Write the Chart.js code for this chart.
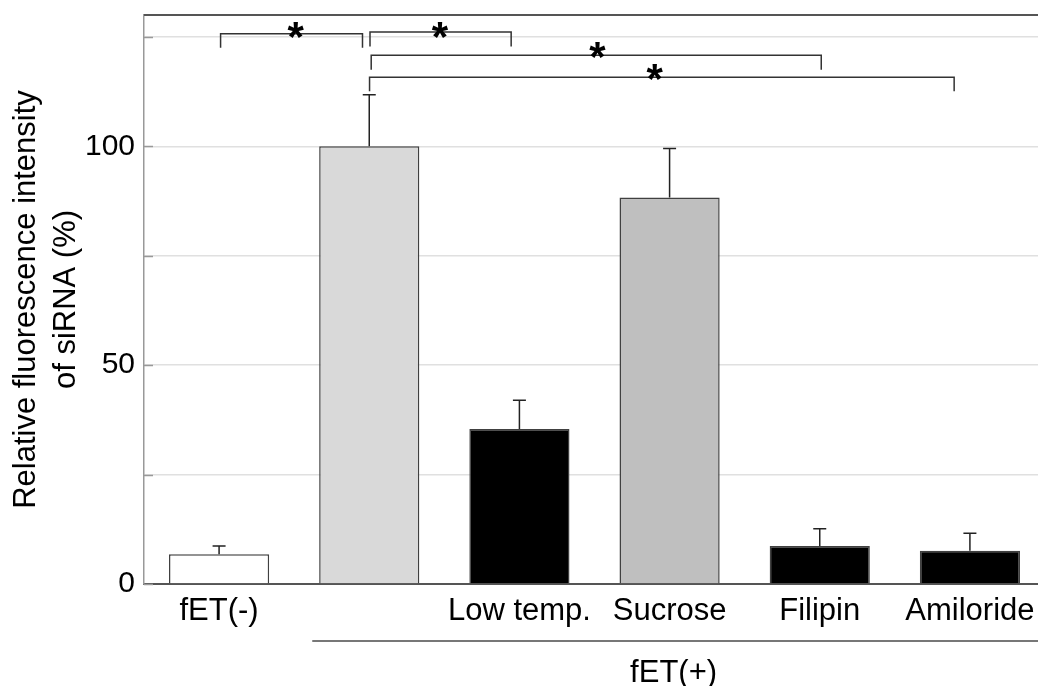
<!DOCTYPE html>
<html lang="en">
  <head>
    <meta charset="UTF-8" />
    <title>Relative fluorescence intensity of siRNA</title>
    <script src="https://cdn.jsdelivr.net/npm/chart.js"></script>
    <style>
      html, body { margin: 0; padding: 0; background: #fff; overflow: hidden; }
      .wrap { position: relative; width: 1050px; height: 686px; }
    </style>
  </head>
  <body>
    <div class="wrap">
      <canvas id="barChart"></canvas>
    </div>

    <script>
      // data
      const categories = ['fET(-)', '', 'Low temp.', 'Sucrose', 'Filipin', 'Amiloride'];
      const values = [6.8, 100, 35.4, 88.3, 8.7, 7.6];
      const errors = [1.9, 11.8, 6.6, 11.2, 3.9, 4.0];
      const barColors = ['#ffffff', '#d9d9d9', '#000000', '#bfbfbf', '#000000', '#000000'];
      const yLabeled = [0, 50, 100];

      // significance brackets (category index / y value)
      const sigFrom = [0.01, 1.005, 1.013, 1.002];
      const sigTo = [0.955, 1.945, 4.01, 4.895];
      const sigY = [125.7, 126.1, 120.8, 115.8];
      const sigLeg = [122.5, 122.8, 117.5, 112.6];
      const starX = [0.51, 1.47, 2.52, 2.9];
      const starY = [127.2, 127.2, 122.8, 117.6];

      const groupLabel = 'fET(+)';
      const groupFrom = 1;
      const groupTo = 5;

      const FONT = "'Liberation Sans', Arial, sans-serif";

      const extras = {
        id: 'extras',
        afterDatasetsDraw(chart) {
          const ctx = chart.ctx;
          const x = chart.scales.x;
          const y = chart.scales.y;
          const area = chart.chartArea;
          ctx.save();

          // short inner ticks on the y axis
          ctx.strokeStyle = '#999';
          ctx.lineWidth = 1.5;
          y.ticks.forEach(t => {
            const py = Math.round(y.getPixelForValue(t.value)) + 0.5;
            ctx.beginPath();
            ctx.moveTo(area.left, py);
            ctx.lineTo(area.left + 9, py);
            ctx.stroke();
          });

          // top frame line
          ctx.strokeStyle = '#555';
          ctx.lineWidth = 2;
          ctx.beginPath();
          ctx.moveTo(area.left, area.top);
          ctx.lineTo(chart.width, area.top);
          ctx.stroke();

          // error bars (upper only)
          ctx.strokeStyle = '#222';
          ctx.lineWidth = 1.5;
          values.forEach((v, i) => {
            const px = x.getPixelForValue(i);
            const top = y.getPixelForValue(v + errors[i]);
            const base = y.getPixelForValue(v);
            ctx.beginPath();
            ctx.moveTo(px, base);
            ctx.lineTo(px, top);
            ctx.moveTo(px - 6.5, top);
            ctx.lineTo(px + 6.5, top);
            ctx.stroke();
          });

          // significance brackets
          ctx.strokeStyle = '#333';
          ctx.lineWidth = 1.5;
          sigFrom.forEach((f, i) => {
            const x1 = x.getPixelForValue(f);
            const x2 = x.getPixelForValue(sigTo[i]);
            const yy = y.getPixelForValue(sigY[i]);
            const yl = y.getPixelForValue(sigLeg[i]);
            ctx.beginPath();
            ctx.moveTo(x1, yl);
            ctx.lineTo(x1, yy);
            ctx.lineTo(x2, yy);
            ctx.lineTo(x2, yl);
            ctx.stroke();
          });
          ctx.fillStyle = '#000';
          ctx.font = 'bold 42px ' + FONT;
          ctx.textAlign = 'center';
          ctx.textBaseline = 'alphabetic';
          starX.forEach((sx, i) => {
            ctx.fillText('*', x.getPixelForValue(sx), y.getPixelForValue(starY[i]) + 24);
          });

          // group line and label under the axis
          const gx1 = x.getPixelForValue(groupFrom) - 57;
          const gx2 = x.getPixelForValue(groupTo) + 75;
          ctx.strokeStyle = '#777';
          ctx.lineWidth = 2;
          ctx.beginPath();
          ctx.moveTo(gx1, 641);
          ctx.lineTo(gx2, 641);
          ctx.stroke();
          ctx.font = '31px ' + FONT;
          ctx.fillStyle = '#000';
          ctx.fillText(groupLabel, x.getPixelForValue((groupFrom + groupTo) / 2) + 4, 682);

          ctx.restore();
        }
      };

      const ctx = document.getElementById('barChart').getContext('2d');
      new Chart(ctx, {
        type: 'bar',
        data: {
          labels: categories,
          datasets: [{
            data: values,
            backgroundColor: barColors,
            borderColor: '#404040',
            borderWidth: 1.5,
            borderSkipped: 'bottom',
            barPercentage: 0.667,
            categoryPercentage: 1.0
          }]
        },
        options: {
          responsive: true,
          maintainAspectRatio: false,
          animation: false,
          layout: { padding: { top: 15, right: 5, left: 0, bottom: 0 } },
          plugins: {
            legend: { display: false },
            tooltip: { enabled: false }
          },
          scales: {
            x: {
              grid: { display: false, drawTicks: false },
              border: { display: true, color: '#555', width: 2 },
              ticks: {
                color: '#000',
                font: { family: FONT, size: 31 },
                padding: 9,
                maxRotation: 0,
                autoSkip: false
              },
              afterFit(scale) {
                scale.height = 102;
                scale.paddingLeft = 0;
                scale.paddingRight = 0;
              }
            },
            y: {
              min: 0,
              max: 130,
              grid: { color: '#e0e0e0', lineWidth: 1.5, drawTicks: false },
              border: { display: true, color: '#999', width: 1.5 },
              ticks: {
                stepSize: 25,
                includeBounds: false,
                color: '#000',
                font: { family: FONT, size: 30 },
                padding: 9,
                callback: v => (yLabeled.includes(v) ? v : '')
              },
              title: {
                display: true,
                text: ['Relative fluorescence intensity', 'of siRNA (%)'],
                color: '#000',
                font: { family: FONT, size: 31, lineHeight: 1.3 },
                padding: { top: 6, bottom: 0 }
              },
              afterFit(scale) {
                scale.width = 144;
                scale.paddingTop = 0;
                scale.paddingBottom = 0;
              }
            }
          }
        },
        plugins: [extras]
      });
    </script>
  </body>
</html>
